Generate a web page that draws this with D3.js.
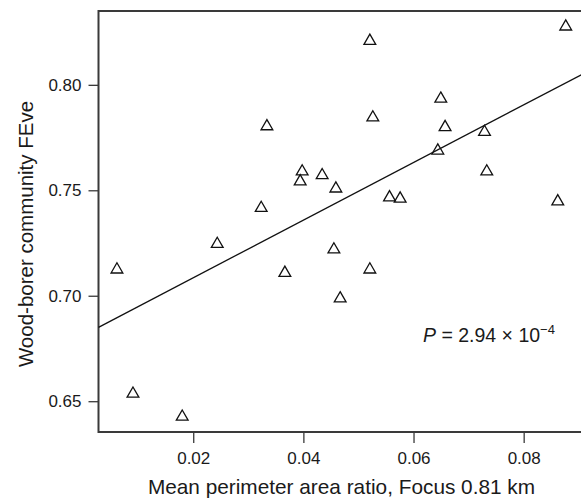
<!DOCTYPE html>
<html>
<head>
<meta charset="utf-8">
<script src="https://cdn.jsdelivr.net/npm/d3@7"></script>
<style>
  html, body { margin: 0; padding: 0; background: #fff; }
  svg { display: block; font-family: "Liberation Sans", Arial, sans-serif; }
</style>
</head>
<body>
<svg id="chart" width="581" height="500"></svg>
<script>
// Mean perimeter-area ratio (Focus 0.81 km) per site
const perimAreaRatio = [
  0.00615, 0.00906, 0.0180, 0.02436, 0.03234, 0.03338, 0.03664, 0.03942,
  0.03978, 0.04341, 0.0459, 0.04554, 0.04668, 0.05207, 0.05207, 0.05261,
  0.05564, 0.05757, 0.06441, 0.06495, 0.06573, 0.07289, 0.0733, 0.08619,
  0.08764
];
// Wood-borer community functional evenness (FEve) per site
const feve = [
  0.7124, 0.6535, 0.6426, 0.7245, 0.7416, 0.7803, 0.7108, 0.7542,
  0.7589, 0.7571, 0.7508, 0.7219, 0.6987, 0.7124, 0.8208, 0.7845,
  0.7466, 0.7460, 0.7688, 0.7934, 0.7799, 0.7776, 0.7589, 0.7447,
  0.8276
];
// Linear fit: FEve = intercept + slope * ratio
const fitIntercept = 0.6812;
const fitSlope = 1.366;

const xTicks = [0.02, 0.04, 0.06, 0.08];
const yTicks = [0.65, 0.70, 0.75, 0.80];

const svg = d3.select("#chart");
const plotLeft = 98.5, plotRight = 584, plotTop = 11, plotBottom = 432;

const x = d3.scaleLinear().domain([0.0028, 0.0905]).range([plotLeft, 581.5]);
const y = d3.scaleLinear().domain([0.6354, 0.835]).range([plotBottom, plotTop]);

const axisColor = "#3a3a3a";
const textColor = "#1a1a1a";

// Y axis
const gy = svg.append("g")
  .attr("transform", `translate(${plotLeft},0)`)
  .call(d3.axisLeft(y).tickValues(yTicks).tickFormat(d3.format(".2f"))
    .tickSize(10).tickPadding(7));
gy.select(".domain").remove();
gy.selectAll(".tick line").attr("stroke", axisColor).attr("stroke-width", 1.3);
gy.selectAll(".tick text").attr("fill", textColor).style("font-size", "17px");

// X axis
const gx = svg.append("g")
  .attr("transform", `translate(0,${plotBottom})`)
  .call(d3.axisBottom(x).tickValues(xTicks).tickFormat(d3.format(".2f"))
    .tickSize(11).tickPadding(9));
gx.select(".domain").remove();
gx.selectAll(".tick line").attr("stroke", axisColor).attr("stroke-width", 1.3);
gx.selectAll(".tick text").attr("fill", textColor).style("font-size", "17px");

// Plot frame
svg.append("path")
  .attr("d", `M${plotRight},${plotTop}H${plotLeft}V${plotBottom}H${plotRight}`)
  .attr("fill", "none")
  .attr("stroke", axisColor)
  .attr("stroke-width", 2);

// Fitted regression line across the plotted range
const [x0, x1] = x.domain();
svg.append("line")
  .attr("x1", x(x0)).attr("y1", y(fitIntercept + fitSlope * x0))
  .attr("x2", x(x1)).attr("y2", y(fitIntercept + fitSlope * x1))
  .attr("stroke", "#111")
  .attr("stroke-width", 1.3);

// Site points as open triangles
const tri = d3.symbol().type(d3.symbolTriangle).size(60);
svg.append("g")
  .selectAll("path")
  .data(d3.zip(perimAreaRatio, feve))
  .join("path")
  .attr("d", tri)
  .attr("transform", d => `translate(${x(d[0])},${y(d[1])})`)
  .attr("fill", "none")
  .attr("stroke", "#111")
  .attr("stroke-width", 1.3);

// P-value annotation
const ann = svg.append("text")
  .attr("x", 423).attr("y", 342)
  .attr("fill", textColor)
  .style("font-size", "19.5px");
ann.append("tspan").attr("font-style", "italic").text("P");
ann.append("tspan").text(" = 2.94 \u00d7 10");
ann.append("tspan").attr("dy", -8).style("font-size", "13px").text("\u22124");

// Axis titles
svg.append("text")
  .attr("x", 341.5).attr("y", 493.5)
  .attr("text-anchor", "middle")
  .attr("fill", textColor)
  .style("font-size", "20.8px")
  .text("Mean perimeter area ratio, Focus 0.81 km");

svg.append("text")
  .attr("transform", "translate(32.5,234) rotate(-90)")
  .attr("text-anchor", "middle")
  .attr("fill", textColor)
  .style("font-size", "20.5px")
  .text("Wood-borer community FEve");
</script>
</body>
</html>
